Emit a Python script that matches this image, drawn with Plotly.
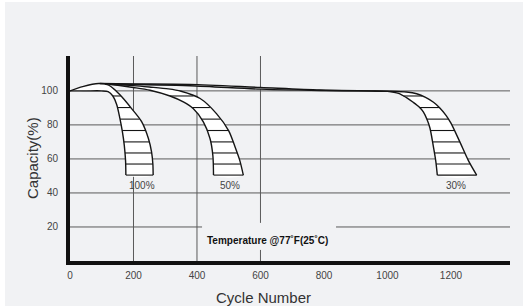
import numpy as np
import plotly.graph_objects as go

# ---------------- data ----------------
# 100% depth of discharge band
cyc_100_outer = [0, 40, 90, 120, 142, 163, 194, 226, 247, 257, 261, 262]
cap_100_outer = [100, 102.5, 104.3, 103.5, 100.5, 96.5, 89.6, 81.8, 72, 64, 57, 50.5]
cyc_100_inner = [0, 50, 100, 120, 135, 147, 157, 165, 171, 175, 176]
cap_100_inner = [100, 100, 100, 99.6, 97, 92, 84, 76, 68, 59, 50.5]

# 50% depth of discharge band
cyc_50_outer = [125, 200, 250, 310, 350, 410, 462, 500, 520, 535, 546]
cap_50_outer = [103.9, 103.1, 102.3, 101.2, 99.8, 95.5, 86.5, 76.5, 67, 59, 50.5]
cyc_50_inner = [125, 200, 252, 315, 357, 388, 420, 441, 450, 452]
cap_50_inner = [103.9, 102, 100.4, 97, 93.5, 89.6, 81.8, 72, 62, 50.5]

# 30% depth of discharge band
cyc_30_outer = [94, 200, 378, 600, 787, 1000, 1060, 1092, 1120, 1145, 1165, 1185, 1200, 1228, 1255, 1281]
cap_30_outer = [104.3, 104.1, 103.8, 102, 100.5, 99.8, 99.3, 98.3, 96.2, 93.3, 90, 85.5, 81, 70, 59, 50.5]
cyc_30_inner = [110, 378, 600, 787, 950, 1000, 1035, 1060, 1081, 1100, 1113, 1125, 1134, 1144, 1152, 1157]
cap_30_inner = [104, 103, 101, 100.2, 100, 99.7, 98.5, 96, 93.3, 90.5, 87.6, 83, 78, 68, 59, 50.5]

hatch_levels = [97, 90.2, 83.4, 76.7, 70, 63.5, 57, 50.5]

band_labels = ["100%", "50%", "30%"]
label_cycles = [228, 503, 1215]
label_capacity = 44.3

x_ticks = [0, 200, 400, 600, 800, 1000, 1200]
y_ticks = [20, 40, 60, 80, 100]
grid_x = [200, 400, 600]
x_max = 1386
y_max = 120.5

temp_text = "Temperature @77˚F(25˚C)"
temp_cycle = 622
temp_capacity = 11.8
# gaps left around the temperature note
gap_20_line = (416, 838)
gap_600_line = (6.5, 22.4)

bands = [
    (cyc_100_outer, cap_100_outer, cyc_100_inner, cap_100_inner),
    (cyc_50_outer, cap_50_outer, cyc_50_inner, cap_50_inner),
    (cyc_30_outer, cap_30_outer, cyc_30_inner, cap_30_inner),
]

LINE = "#151515"
GRID = "#5a5a5a"
BG = "#f1f2f4"
FONT = "Liberation Sans, Arial, Helvetica, sans-serif"

# plot-area geometry in pixels
ML, MR, MT, MB = 70, 13, 56, 45
PW, PH = 523 - ML - MR, 306 - MT - MB


def x_at(level, cyc, cap):
    cyc = np.asarray(cyc, float)
    cap = np.asarray(cap, float)
    i = int(np.argmax(cap))
    seg_c, seg_y = cyc[i:], cap[i:]
    return float(np.interp(level, seg_y[::-1], seg_c[::-1]))


fig = go.Figure()

# white fill of each band
for co, yo, ci, yi in bands:
    fig.add_trace(go.Scatter(x=list(co) + list(ci)[::-1], y=list(yo) + list(yi)[::-1],
                             mode="lines", fill="toself", fillcolor="white",
                             line=dict(color="rgba(0,0,0,0)", width=0, shape="spline", smoothing=0.8),
                             hoverinfo="skip", showlegend=False))

# band outlines
for co, yo, ci, yi in bands:
    for cx, cy in ((co, yo), (ci, yi)):
        fig.add_trace(go.Scatter(x=cx, y=cy, mode="lines",
                                 line=dict(color=LINE, width=1.4, shape="spline", smoothing=0.8),
                                 hoverinfo="skip", showlegend=False))

# hatching
for co, yo, ci, yi in bands:
    hx, hy = [], []
    for lv in hatch_levels:
        hx += [x_at(lv, ci, yi), x_at(lv, co, yo), None]
        hy += [lv, lv, None]
    fig.add_trace(go.Scatter(x=hx, y=hy, mode="lines",
                             line=dict(color=LINE, width=1.1),
                             hoverinfo="skip", showlegend=False))

shapes = []
for v in y_ticks:
    if v == 20:
        shapes.append(dict(type="line", xref="x", yref="y", x0=0, x1=gap_20_line[0], y0=v, y1=v,
                           line=dict(color=GRID, width=1), layer="below"))
        shapes.append(dict(type="line", xref="x", yref="y", x0=gap_20_line[1], x1=x_max, y0=v, y1=v,
                           line=dict(color=GRID, width=1), layer="below"))
    else:
        shapes.append(dict(type="line", xref="paper", yref="y", x0=0, x1=1, y0=v, y1=v,
                           line=dict(color=GRID, width=1), layer="below"))
for g in grid_x:
    if g == 600:
        shapes.append(dict(type="line", xref="x", yref="y", x0=g, x1=g, y0=0, y1=gap_600_line[0],
                           line=dict(color=GRID, width=1), layer="below"))
        shapes.append(dict(type="line", xref="x", yref="y", x0=g, x1=g, y0=gap_600_line[1], y1=y_max,
                           line=dict(color=GRID, width=1), layer="below"))
    else:
        shapes.append(dict(type="line", xref="x", yref="y", x0=g, x1=g, y0=0, y1=y_max,
                           line=dict(color=GRID, width=1), layer="below"))

# thin white frame strips at the left and top edge of the picture
shapes.append(dict(type="rect", xref="paper", yref="paper", x0=-ML / PW, x1=-(ML - 5) / PW,
                   y0=-MB / PH, y1=(PH + MT) / PH, fillcolor="white", line=dict(width=0), layer="below"))
shapes.append(dict(type="rect", xref="paper", yref="paper", x0=-ML / PW, x1=(PW + MR) / PW,
                   y0=(PH + MT - 2) / PH, y1=(PH + MT) / PH, fillcolor="white", line=dict(width=0),
                   layer="below"))

annotations = []
for lab, cx in zip(band_labels, label_cycles):
    annotations.append(dict(x=cx, y=label_capacity, xref="x", yref="y", text=lab, showarrow=False,
                            xanchor="center", yanchor="middle",
                            font=dict(family=FONT, size=10, color="#444")))
annotations.append(dict(x=temp_cycle, y=temp_capacity, xref="x", yref="y", text="<b>" + temp_text + "</b>",
                        showarrow=False, xanchor="center", yanchor="middle",
                        font=dict(family=FONT, size=10, color="#111")))
# axis titles
annotations.append(dict(x=(263 - ML) / PW, y=(PH + MT - 297) / PH, xref="paper", yref="paper",
                        text="Cycle Number", showarrow=False, xanchor="center", yanchor="middle",
                        font=dict(family=FONT, size=15, color="#333")))
annotations.append(dict(x=(32 - ML) / PW, y=(PH + MT - 158) / PH, xref="paper", yref="paper",
                        text="Capacity(%)", showarrow=False, textangle=-90,
                        xanchor="center", yanchor="middle",
                        font=dict(family=FONT, size=15, color="#333")))

fig.update_layout(
    width=523, height=306,
    margin=dict(l=ML, r=MR, t=MT, b=MB, autoexpand=False),
    paper_bgcolor=BG, plot_bgcolor=BG,
    font=dict(family=FONT),
    shapes=shapes, annotations=annotations,
    xaxis=dict(range=[0, x_max], tickvals=x_ticks, ticktext=[str(v) for v in x_ticks],
               showgrid=False, zeroline=False, showline=True, linewidth=4, linecolor="#111",
               ticks="", automargin=False, ticklabelstandoff=2,
               tickfont=dict(family=FONT, size=10, color="#444")),
    yaxis=dict(range=[0, y_max], tickvals=y_ticks, ticktext=[str(v) for v in y_ticks],
               showgrid=False, zeroline=False, showline=True, linewidth=4, linecolor="#111",
               ticks="", automargin=False, ticklabelstandoff=6,
               tickfont=dict(family=FONT, size=10, color="#444")),
)

fig.write_html("out.html", config={"displayModeBar": False},
               post_script="document.body.style.margin='0';")
